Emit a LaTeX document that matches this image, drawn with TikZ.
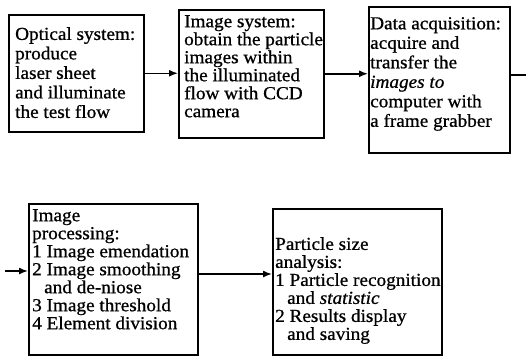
\documentclass[tikz,border=0pt]{standalone}
\usepackage{fontspec}
\setmainfont{Liberation Serif}[FakeStretch=1.05,FakeBold=0.8]
\usetikzlibrary{arrows.meta}
\begin{document}
\begin{tikzpicture}[x=1pt,y=-1pt,
  boxnode/.style={draw,line width=1.5pt,rectangle,anchor=north west,inner sep=0pt},
  txt/.style={anchor=north west,align=left,inner sep=0pt,font=\fontsize{18.3}{#1}\selectfont},
  txt/.default=19,
  conn/.style={line width=1.5pt,-{Latex[length=9pt,width=7pt]}},
  plain/.style={line width=1.5pt}]
\useasboundingbox (0,0) rectangle (526,357);
% boxes
\node[boxnode,minimum width=135pt,minimum height=117pt] (b1) at (8,14) {};
\node[boxnode,minimum width=145pt,minimum height=128pt] (b2) at (178,9) {};
\node[boxnode,minimum width=141pt,minimum height=146pt] (b3) at (368,6) {};
\node[boxnode,minimum width=169pt,minimum height=151pt] (b4) at (28,203) {};
\node[boxnode,minimum width=169pt,minimum height=146pt] (b5) at (272,208) {};
% texts
\node[txt=19.5] (t1) at (15,27) {Optical system:\\produce\\laser sheet\\and illuminate\\the test flow};
\node[txt=18] (t2) at (184,15) {Image system:\\obtain the particle\\images within\\the illuminated\\flow with CCD\\camera};
\node[txt=19.5] (t3) at (370,17) {Data acquisition:\\acquire and\\transfer the\\\textit{images to}\\computer with\\a frame grabber};
\node[txt=18] (t4) at (32,209) {Image\\processing:\\1 Image emendation\\2 Image smoothing\\\hspace*{12pt}and de-niose\\3 Image threshold\\4 Element division};
\node[txt=18] (t5) at (275,237) {Particle size\\analysis:\\1 Particle recognition\\\hspace*{12pt}and \textit{statistic}\\2 Results display\\\hspace*{12pt}and saving};
% connectors
\coordinate (out3) at (526,75);
\coordinate (in4) at (5,271);
\coordinate (y45) at (0,274);
\draw[conn] (b1.east) -- (b2.west |- b1.east);
\draw[conn] (b2.east) -- (b2.east -| b3.west);
\draw[plain] (out3 -| b3.east) -- (out3);
\draw[conn] (in4) -- (in4 -| b4.west);
\draw[conn] (y45 -| b4.east) -- (y45 -| b5.west);
\end{tikzpicture}
\end{document}
